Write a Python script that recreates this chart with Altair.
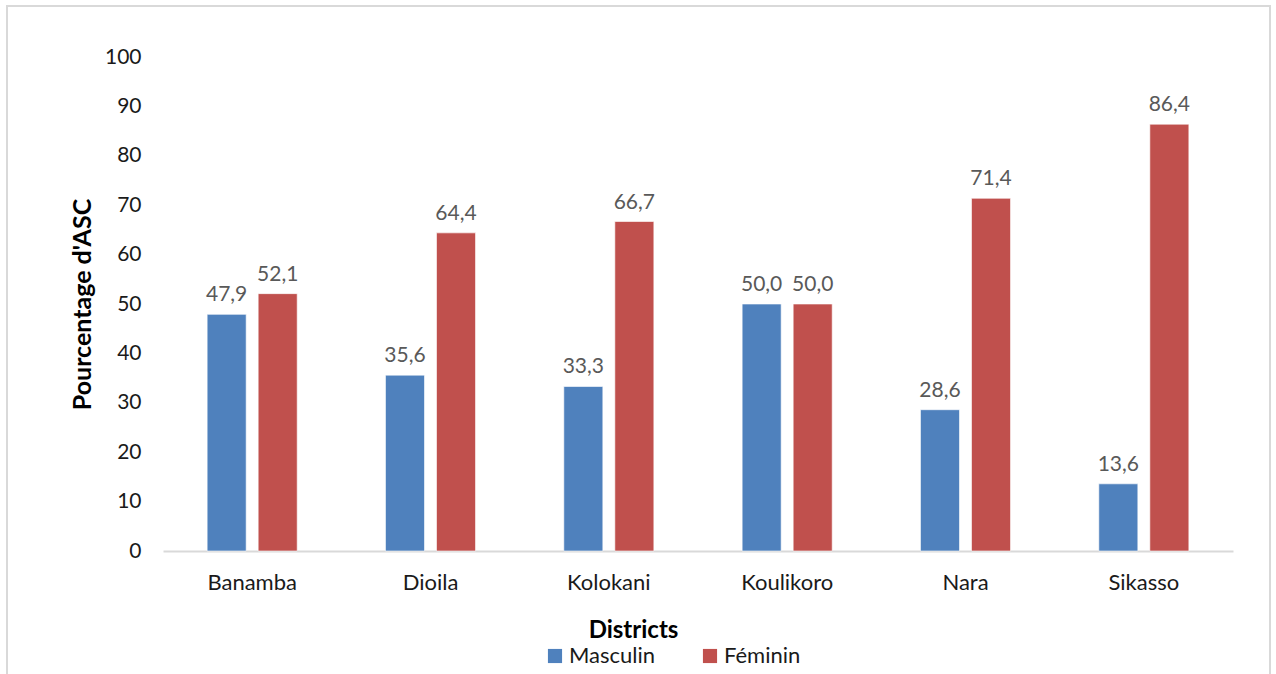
import altair as alt
import pandas as pd

districts = ["Banamba", "Dioila", "Kolokani", "Koulikoro", "Nara", "Sikasso"]
masculin = [47.9, 35.6, 33.3, 50.0, 28.6, 13.6]
feminin = [52.1, 64.4, 66.7, 50.0, 71.4, 86.4]
sexes = ["Masculin", "Féminin"]
colors = ["#4F81BD", "#C0504D"]
y_ticks = list(range(0, 101, 10))

rows = []
for d, m, f in zip(districts, masculin, feminin):
    rows.append({"District": d, "Sexe": sexes[0], "Pct": m})
    rows.append({"District": d, "Sexe": sexes[1], "Pct": f})
df = pd.DataFrame(rows)

FONT = "Lato"
W, H = 1070, 494

x = alt.X(
    "District:N",
    sort=districts,
    scale=alt.Scale(paddingInner=0, paddingOuter=0),
    axis=alt.Axis(
        title="Districts",
        titleFontWeight="bold",
        titleFontSize=24,
        titleColor="#000000",
        titleX=470,
        titleY=79,
        titleAnchor="middle",
        titleAlign="center",
        titleBaseline="middle",
        labelAngle=0,
        labelFontSize=22,
        labelColor="#1a1a1a",
        labelPadding=21,
        ticks=False,
        domainColor="#D9D9D9",
        domainWidth=2,
    ),
)
x_off = alt.XOffset(
    "Sexe:N",
    sort=sexes,
    scale=alt.Scale(paddingInner=0.235, paddingOuter=0.865),
)
y = alt.Y(
    "Pct:Q",
    scale=alt.Scale(domain=[0, 100], nice=False),
    axis=alt.Axis(
        title="Pourcentage d'ASC",
        titleFontWeight="bold",
        titleFontSize=25,
        titleColor="#000000",
        titleAngle=270,
        titleX=-81,
        titleY=247,
        titleAlign="center",
        titleBaseline="middle",
        values=y_ticks,
        labelFontSize=21,
        labelColor="#1a1a1a",
        labelPadding=22,
        ticks=False,
        domain=False,
        grid=False,
    ),
)
color = alt.Color(
    "Sexe:N",
    sort=sexes,
    scale=alt.Scale(domain=sexes, range=colors),
    legend=alt.Legend(
        title=None,
        orient="none",
        direction="horizontal",
        legendX=381,
        legendY=588,
        symbolType="square",
        symbolSize=200,
        symbolStrokeWidth=0,
        labelFontSize=22,
        labelColor="#1a1a1a",
        columnPadding=43,
        labelOffset=3,
    ),
)

base = alt.Chart(df).encode(x=x, xOffset=x_off)

bars = base.mark_bar(stroke="white", strokeWidth=1, strokeOpacity=0.6).encode(y=y, color=color)

labels = base.transform_calculate(
    label="replace(format(datum.Pct, '.1f'), '.', ',')"
).mark_text(baseline="bottom", dy=-9, fontSize=21, color="#595959", font=FONT).encode(
    y="Pct:Q", text="label:N"
)

# outer frame around the whole figure
frame = alt.Chart(pd.DataFrame({"k": [0]})).mark_rect(
    fill=None, stroke="#D9D9D9", strokeWidth=2
).encode(
    x=alt.value(-156), x2=alt.value(1107), y=alt.value(-51), y2=alt.value(H + 140)
)

chart = (
    alt.layer(frame, bars, labels)
    .properties(
        width=W,
        height=H,
        autosize=alt.AutoSizeParams(type="none"),
        padding={"left": 163, "top": 57, "right": 43, "bottom": 123},
    )
    .configure(font=FONT)
    .configure_view(stroke=None)
)

chart.save("out.html", embed_options={"renderer": "svg", "actions": False})
